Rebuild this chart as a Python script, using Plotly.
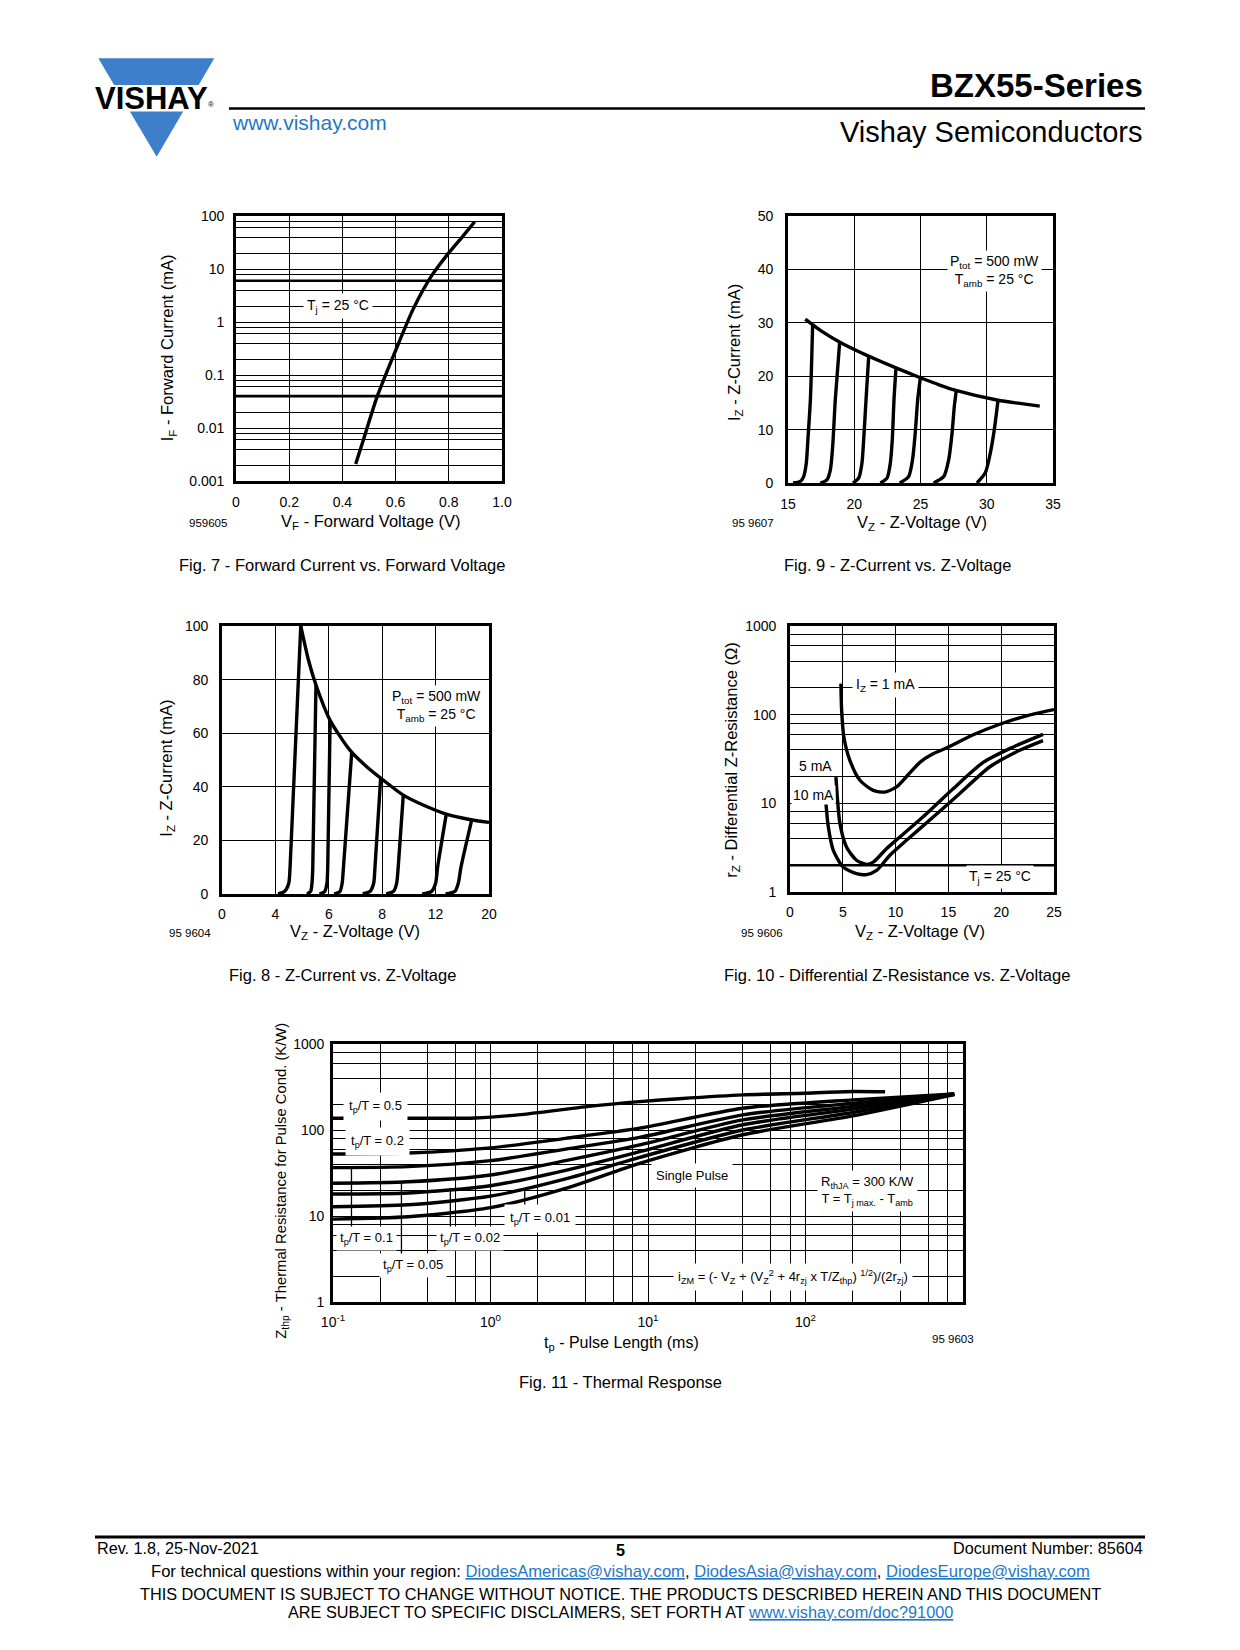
import numpy as np
import plotly.graph_objects as go

W, H = 1240, 1650
OFF = 8  # the page body margin shifts the figure by this many pixels
FONT = "Liberation Sans, Arial, Helvetica, sans-serif"
LOGO_BLUE = "#3d7fcb"
LINK = "#1f78c8"

# ---------------- data ----------------
# Fig. 7 - forward current vs forward voltage
F7_VF = [0.45, 0.48, 0.529, 0.5975, 0.666, 0.735, 0.7975, 0.85, 0.8975]
F7_IF = [0.0021, 0.0062, 0.037, 0.27, 1.75, 7.4, 19.5, 40, 78]
F7_XTICKS = [0, 0.2, 0.4, 0.6, 0.8, 1.0]
F7_XLABELS = ["0", "0.2", "0.4", "0.6", "0.8", "1.0"]
F7_YLABELS = ["0.001", "0.01", "0.1", "1", "10", "100"]

# Fig. 9 - Z-current vs Z-voltage (15 V .. 35 V)
F9_ENV_V = [16.3, 17.5, 18.82, 20.08, 21.04, 23.1, 24.9, 26.5, 27.6, 30.85, 32.5, 34.0]
F9_ENV_I = [30.7, 28.5, 26.5, 24.9, 23.8, 21.6, 19.8, 18.3, 17.4, 15.5, 14.9, 14.4]
F9_CURVES_V = [
    [15.38, 15.93, 16.18, 16.38, 16.5, 16.69, 16.86],
    [17.44, 17.94, 18.2, 18.37, 18.57, 18.9],
    [19.9, 20.33, 20.58, 20.71, 20.89, 21.09],
    [21.97, 22.47, 22.72, 22.87, 23.0, 23.15],
    [23.43, 24.1, 24.4, 24.6, 24.79, 24.99],
    [25.99, 26.75, 27.13, 27.38, 27.55, 27.7],
    [29.26, 29.89, 30.27, 30.57, 30.85],
]
F9_CURVES_I = [
    [0, 0.3, 1.2, 3.7, 8.1, 15.6, 29.6],
    [0, 0.6, 2.5, 6.8, 15.6, 26.4],
    [0, 0.9, 3.7, 8.1, 15.6, 23.7],
    [0, 0.9, 3.7, 8.1, 15.6, 21.5],
    [0, 1.2, 4.4, 9.3, 15.6, 19.7],
    [0, 1.2, 4.4, 9.3, 14.3, 17.3],
    [0, 1.9, 5.6, 10.0, 15.5],
]
F9_XTICKS = [15, 20, 25, 30, 35]
F9_YTICKS = [0, 10, 20, 30, 40, 50]

# Fig. 8 - Z-current vs Z-voltage (0 V .. 20 V, non-uniform axis)
F8_XTICKS_V = [0, 4, 6, 8, 12, 20]
F8_YTICKS = [0, 20, 40, 60, 80, 100]
F8_ENV_V = [4.95, 5.24, 5.52, 6.05, 6.79, 7.42, 8.08, 9.58, 11.07, 13.6, 17.1, 20.0]
F8_ENV_I = [100, 87.2, 78, 64.8, 53.7, 47.5, 42.5, 36.9, 33.2, 29.8, 27.8, 26.7]
F8_CURVES_V = [
    [4.1, 4.35, 4.5, 4.55, 4.95],
    [5.18, 5.32, 5.37, 5.4, 5.52],
    [5.65, 5.85, 5.93, 5.96, 6.05],
    [6.2, 6.42, 6.5, 6.55, 6.86],
    [7.27, 7.55, 7.68, 7.73, 7.94],
    [8.3, 8.85, 9.08, 9.2, 9.58],
    [11.0, 11.7, 12.0, 12.3, 13.6],
    [13.5, 14.9, 15.4, 15.8, 17.4],
]
F8_CURVES_I = [
    [0, 1, 4, 10, 100],
    [0, 1, 4, 10, 78],
    [0, 1, 4, 10, 64.8],
    [0, 1, 4, 10, 53],
    [0, 1, 4, 10, 43],
    [0, 1, 4, 10, 36.9],
    [0, 1, 4, 10, 29.8],
    [0, 1, 4, 10, 27.6],
]

# Fig. 10 - differential Z-resistance vs Z-voltage
F10_1MA_V = [4.82, 4.89, 5.1, 5.67, 6.62, 7.88, 8.98, 10.09, 11.19, 12.3, 13.5, 14.8, 17.3, 19.86, 22.4, 25.0]
F10_1MA_R = [224, 112, 56, 30.5, 18.2, 14.0, 13.4, 15.3, 21.0, 29.0, 36.0, 42, 59, 78, 97, 114]
F10_5MA_V = [4.35, 4.48, 4.73, 5.36, 6.3, 7.25, 7.88, 9.14, 10.4, 12.9, 15.45, 18.3, 21.1, 23.96]
F10_5MA_R = [19.8, 11.8, 5.9, 3.2, 2.28, 2.05, 2.17, 3.08, 4.17, 7.6, 14.6, 29, 43, 60]
F10_10MA_V = [3.4, 3.63, 4.1, 5.04, 6.3, 7.25, 8.2, 9.46, 11.03, 13.56, 16.08, 18.9, 21.75, 23.96]
F10_10MA_R = [10.1, 5.4, 2.95, 1.91, 1.61, 1.57, 1.75, 2.6, 3.83, 7.0, 12.9, 25.7, 39.6, 51]
F10_XTICKS = [0, 5, 10, 15, 20, 25]
F10_YLABELS = ["1", "10", "100", "1000"]

# Fig. 11 - thermal response (tp in ms, Zthp in K/W)
F11_TP_05 = [0.1, 0.3, 0.8, 1.5, 4.5, 8.85, 15.8, 40, 100, 200, 320]
F11_Z_05 = [137, 137, 138, 150, 191, 214, 231, 256, 268, 280, 278]
F11_TP = [0.1, 0.3, 1, 3, 8.85, 40, 200, 880]
F11_Z_02 = [52.5, 54, 62, 80, 105, 179, 224, 262]
F11_Z_01 = [36.5, 37.5, 44, 60, 82, 150, 205, 258]
F11_Z_005 = [24, 25, 30, 44, 67, 131, 188, 262]
F11_Z_002 = [18, 18.5, 22.5, 34, 56, 115, 175, 265]
F11_Z_001 = [12.8, 13.5, 17, 27, 48, 100, 160, 262]
F11_Z_SP = [9.2, 9.8, 12.5, 21, 41, 88, 146, 258]
F11_XLABELS = ["10<sup>-1</sup>", "10<sup>0</sup>", "10<sup>1</sup>", "10<sup>2</sup>", ""]
F11_YLABELS = ["1", "10", "100", "1000"]

# ---------------- helpers ----------------
def px(x):
    return (x - OFF) / W


def py(y):
    return 1 - (y - OFF) / H


def log_ticks(lo, hi, labels, mults=(1, 2, 4, 6, 8)):
    vals, texts = [], []
    for e in range(lo, hi):
        for m in mults:
            vals.append(m * 10.0 ** e)
            texts.append(labels[e - lo] if m == 1 else "")
    vals.append(10.0 ** hi)
    texts.append(labels[hi - lo] if hi - lo < len(labels) else "")
    return vals, texts


BASE_AX = dict(showline=True, linecolor="black", linewidth=2.6, mirror=True,
               showgrid=True, gridcolor="black", gridwidth=1.3, zeroline=False,
               ticks="", fixedrange=True, tickmode="array", automargin=False,
               tickfont=dict(family=FONT, size=14, color="black"))

CURVE = dict(color="black", width=3.4, shape="spline", smoothing=0.7)

fig = go.Figure()


def add_curve(x, y, n):
    fig.add_trace(go.Scatter(x=x, y=y, xaxis="x" + n, yaxis="y" + n, mode="lines",
                             line=CURVE, showlegend=False, hoverinfo="skip"))


# Fig. 7
add_curve(F7_VF, F7_IF, "")
# Fig. 9
add_curve(F9_ENV_V, F9_ENV_I, "2")
for v, i in zip(F9_CURVES_V, F9_CURVES_I):
    add_curve(v, i, "2")
# Fig. 8 (piecewise-linear voltage axis)
F8_POS = list(range(len(F8_XTICKS_V)))
add_curve(np.interp(F8_ENV_V, F8_XTICKS_V, F8_POS), F8_ENV_I, "3")
for v, i in zip(F8_CURVES_V, F8_CURVES_I):
    add_curve(np.interp(v, F8_XTICKS_V, F8_POS), i, "3")
# Fig. 10
add_curve(F10_1MA_V, F10_1MA_R, "4")
add_curve(F10_5MA_V, F10_5MA_R, "4")
add_curve(F10_10MA_V, F10_10MA_R, "4")
# Fig. 11
add_curve(F11_TP_05, F11_Z_05, "5")
for z in (F11_Z_02, F11_Z_01, F11_Z_005, F11_Z_002, F11_Z_001, F11_Z_SP):
    add_curve(F11_TP, z, "5")

y7v, y7t = log_ticks(-3, 2, F7_YLABELS)
y10v, y10t = log_ticks(0, 3, F10_YLABELS)
y11v, y11t = log_ticks(0, 3, F11_YLABELS)
x11v, x11t = log_ticks(-1, 3, F11_XLABELS)

layout = dict(
    template="none",
    width=W, height=H, autosize=False, margin=dict(l=0, r=0, t=0, b=0, pad=0),
    paper_bgcolor="white", plot_bgcolor="white", showlegend=False,
    font=dict(family=FONT, color="black"),
    xaxis=dict(BASE_AX, domain=[px(236), px(502)], range=[0, 1], anchor="y",
               tickvals=F7_XTICKS, ticktext=F7_XLABELS, ticklabelstandoff=6),
    yaxis=dict(BASE_AX, domain=[py(481), py(216)], type="log", range=[-3, 2], anchor="x",
               tickvals=y7v, ticktext=y7t, ticklabelstandoff=6),
    xaxis2=dict(BASE_AX, domain=[px(788), px(1053)], range=[15, 35], anchor="y2",
                tickvals=F9_XTICKS, ticktext=[str(t) for t in F9_XTICKS], ticklabelstandoff=6),
    yaxis2=dict(BASE_AX, domain=[py(483), py(216)], range=[0, 50], anchor="x2",
                tickvals=F9_YTICKS, ticktext=[str(t) for t in F9_YTICKS], ticklabelstandoff=9),
    xaxis3=dict(BASE_AX, domain=[px(222), px(489)], range=[0, 5], anchor="y3",
                tickvals=F8_POS, ticktext=[str(t) for t in F8_XTICKS_V], ticklabelstandoff=5),
    yaxis3=dict(BASE_AX, domain=[py(894), py(626)], range=[0, 100], anchor="x3",
                tickvals=F8_YTICKS, ticktext=[str(t) for t in F8_YTICKS], ticklabelstandoff=8),
    xaxis4=dict(BASE_AX, domain=[px(790), px(1054)], range=[0, 25], anchor="y4",
                tickvals=F10_XTICKS, ticktext=[str(t) for t in F10_XTICKS], ticklabelstandoff=5),
    yaxis4=dict(BASE_AX, domain=[py(892), py(626)], type="log", range=[0, 3], anchor="x4",
                tickvals=y10v, ticktext=y10t, ticklabelstandoff=8),
    xaxis5=dict(BASE_AX, domain=[px(333), px(963)], type="log", range=[-1, 3], anchor="y5",
                tickvals=x11v, ticktext=x11t, ticklabelstandoff=5),
    yaxis5=dict(BASE_AX, domain=[py(1302), py(1044)], type="log", range=[0, 3], anchor="x5",
                tickvals=y11v, ticktext=y11t, ticklabelstandoff=3),
)
fig.update_layout(**layout)

shapes = []
# thicker grid lines present in the originals
for yref, val in (("y", 6), ("y", 0.04), ("y4", 2)):
    shapes.append(dict(type="line", xref=yref.replace("y", "x") + " domain", yref=yref,
                       x0=0, x1=1, y0=val, y1=val, line=dict(color="black", width=2.6)))
# leader lines for Fig. 11 labels
for xv, y0, y1 in ((0.131, 36.3, 6.5), (0.272, 24.5, 3.3), (0.556, 21, 6.5), (1.65, 21, 11)):
    shapes.append(dict(type="line", xref="x5", yref="y5", x0=xv, x1=xv, y0=y0, y1=y1,
                       line=dict(color="black", width=1.3)))
# header / footer rules
shapes.append(dict(type="line", xref="paper", yref="paper", x0=px(229), x1=px(1145),
                   y0=py(108.5), y1=py(108.5), line=dict(color="black", width=2.5)))
shapes.append(dict(type="line", xref="paper", yref="paper", x0=px(95), x1=px(1145),
                   y0=py(1537), y1=py(1537), line=dict(color="black", width=3)))
# logo triangle + white band
shapes.append(dict(type="path", xref="paper", yref="paper",
                   path=f"M {px(98.3)} {py(58.3)} L {px(214.3)} {py(58.3)} L {px(156.7)} {py(156.7)} Z",
                   fillcolor=LOGO_BLUE, line=dict(width=0)))
shapes.append(dict(type="rect", xref="paper", yref="paper", x0=px(90), x1=px(222),
                   y0=py(111.5), y1=py(85), fillcolor="white", line=dict(width=0)))
fig.update_layout(shapes=shapes)


def txt(x, y, s, size=14, xanchor="center", yanchor="middle", color="black", bg=None,
        angle=0, pad=1):
    fig.add_annotation(x=px(x), y=py(y), xref="paper", yref="paper", text=s, showarrow=False,
                       xanchor=xanchor, yanchor=yanchor, textangle=angle,
                       font=dict(family=FONT, size=size, color=color),
                       bgcolor=bg if bg else "rgba(0,0,0,0)", borderpad=pad)


# header
txt(151, 98, "<b>VISHAY</b>", size=31)
txt(211, 104, "®", size=8)
txt(1145, 86, "<b>BZX55-Series</b>", size=33, xanchor="right")
txt(230, 122, "www.vishay.com", size=21, xanchor="left", color=LINK)
txt(1145, 131.6, "Vishay Semiconductors", size=29, xanchor="right")

# Fig. 7 text
txt(338, 306, "T<sub>j</sub> = 25 °C", size=14, bg="white", pad=3)
txt(370, 521.7, "V<sub>F</sub> - Forward Voltage (V)", size=16.5)
txt(168.3, 348, "I<sub>F</sub> - Forward Current (mA)", size=16.5, angle=-90)
txt(208.3, 523.3, "959605", size=11.5)
txt(342, 565, "Fig. 7 - Forward Current vs. Forward Voltage", size=16.5)

# Fig. 9 text
txt(994, 271.5, "P<sub>tot</sub> = 500 mW<br>T<sub>amb</sub> = 25 °C", size=14, bg="white", pad=2)
txt(921.7, 522.7, "V<sub>Z</sub> - Z-Voltage (V)", size=16.5)
txt(735, 353, "I<sub>Z</sub> - Z-Current (mA)", size=16.5, angle=-90)
txt(753.3, 523.3, "95 9607", size=11.5)
txt(897, 565, "Fig. 9 - Z-Current vs. Z-Voltage", size=16.5)

# Fig. 8 text
txt(436, 706, "P<sub>tot</sub> = 500 mW<br>T<sub>amb</sub> = 25 °C", size=14, bg="white", pad=2)
txt(355, 931.7, "V<sub>Z</sub> - Z-Voltage (V)", size=16.5)
txt(166.7, 768, "I<sub>Z</sub> - Z-Current (mA)", size=16.5, angle=-90)
txt(190, 933.3, "95 9604", size=11.5)
txt(342.6, 975, "Fig. 8 - Z-Current vs. Z-Voltage", size=16.5)

# Fig. 10 text
txt(885, 685, "I<sub>Z</sub> = 1 mA", size=14, bg="white", pad=3)
txt(815, 766, "5 mA", size=14, bg="white", pad=1)
txt(813.3, 795, "10 mA", size=14, bg="white", pad=1)
txt(1000, 877, "T<sub>j</sub> = 25 °C", size=14, bg="white", pad=2)
txt(920, 931.7, "V<sub>Z</sub> - Z-Voltage (V)", size=16.5)
txt(731.7, 760, "r<sub>Z</sub> - Differential Z-Resistance (Ω)", size=16.5, angle=-90)
txt(761.7, 933.3, "95 9606", size=11.5)
txt(897, 975, "Fig. 10 - Differential Z-Resistance vs. Z-Voltage", size=16.5)

# Fig. 11 text
txt(375, 1106, "t<sub>p</sub>/T = 0.5", size=13, bg="white", pad=5)
txt(377, 1141, "t<sub>p</sub>/T = 0.2", size=13, bg="white", pad=5)
txt(366.7, 1238.3, "t<sub>p</sub>/T = 0.1", size=13, bg="white", pad=3)
txt(470, 1238.3, "t<sub>p</sub>/T = 0.02", size=13, bg="white", pad=3)
txt(413.3, 1265, "t<sub>p</sub>/T = 0.05", size=13, bg="white", pad=3)
txt(540, 1218.3, "t<sub>p</sub>/T = 0.01", size=13, bg="white", pad=5)
txt(691.7, 1175, "Single Pulse", size=13, bg="white", pad=4)
txt(867, 1191, "R<sub>thJA</sub> = 300 K/W<br>T = T<sub>j max.</sub> - T<sub>amb</sub>", size=13,
    bg="white", pad=3)
txt(793.3, 1277, "i<sub>ZM</sub> = (- V<sub>Z</sub> + (V<sub>Z</sub><sup>2</sup> + 4r<sub>zj</sub> x "
    "T/Z<sub>thp</sub>) <sup>1/2</sup>)/(2r<sub>zj</sub>)", size=13, bg="white", pad=4)
txt(621, 1343, "t<sub>p</sub> - Pulse Length (ms)", size=16)
txt(281.7, 1181, "Z<sub>thp</sub> - Thermal Resistance for Pulse Cond. (K/W)", size=14.8, angle=-90)
txt(952.6, 1339, "95 9603", size=11.5)
txt(620, 1382, "Fig. 11 - Thermal Response", size=16.5)

# footer
U = f'<span style="color:{LINK};text-decoration:underline">'
txt(95, 1548, "Rev. 1.8, 25-Nov-2021", size=16.2, xanchor="left")
txt(620, 1550, "<b>5</b>", size=16.2)
txt(1145, 1548, "Document Number: 85604", size=16.2, xanchor="right")
txt(620, 1571.5, "For technical questions within your region: " + U + "DiodesAmericas@vishay.com</span>, "
    + U + "DiodesAsia@vishay.com</span>, " + U + "DiodesEurope@vishay.com</span>", size=16.6)
txt(620, 1594, "THIS DOCUMENT IS SUBJECT TO CHANGE WITHOUT NOTICE. THE PRODUCTS DESCRIBED HEREIN AND THIS DOCUMENT",
    size=16.3)
txt(620, 1611.5, "ARE SUBJECT TO SPECIFIC DISCLAIMERS, SET FORTH AT " + U + "www.vishay.com/doc?91000</span>",
    size=16.3)

fig.write_html("out.html", config={"displayModeBar": False})
